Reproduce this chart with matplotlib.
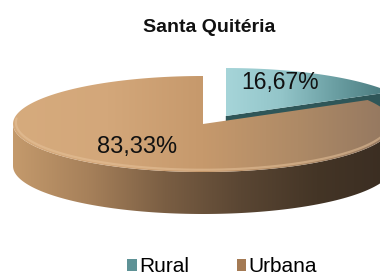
import numpy as np
import matplotlib
matplotlib.use("Agg")
import matplotlib.pyplot as plt
from matplotlib.patches import Polygon, Patch
from matplotlib.colors import LinearSegmentedColormap

plt.rcParams['font.family'] = ['Liberation Sans', 'DejaVu Sans']

title = "Santa Quitéria"
categories = ["Rural", "Urbana"]
values = [16.67, 83.33]
labels = ["16,67%", "83,33%"]
explode = [0.24, 0.0]

# geometry (pixel-like data units)
cx, cy, rx, ry, depth = 203.0, 124.0, 190.0, 48.0, 42.0

fig = plt.figure(figsize=(3.8, 2.76), dpi=100)
ax = fig.add_axes([0, 0, 1, 1])
ax.set_xlim(0, 380)
ax.set_ylim(276, 0)
ax.axis("off")


def pt(theta_deg, ox=0.0, oy=0.0, r=1.0):
    t = np.deg2rad(theta_deg)
    return cx + ox + r * rx * np.cos(t), cy + oy - r * ry * np.sin(t)


def grad_fill(verts, colors, zorder):
    verts = np.asarray(verts)
    poly = Polygon(verts, closed=True, facecolor="none", edgecolor="none")
    ax.add_patch(poly)
    x0, x1 = verts[:, 0].min(), verts[:, 0].max()
    y0, y1 = verts[:, 1].min(), verts[:, 1].max()
    cmap = LinearSegmentedColormap.from_list("g", colors)
    g = np.linspace(0, 1, 256).reshape(1, -1)
    im = ax.imshow(g, cmap=cmap, extent=(x0, x1, y1, y0), aspect="auto",
                   zorder=zorder, interpolation="bilinear")
    im.set_clip_path(poly)
    ax.set_xlim(0, 380)
    ax.set_ylim(276, 0)


# compute wedge angles (start at 12 o'clock, clockwise)
start = 90.0
angles = []
cum = 0.0
for v in values:
    t1 = start - cum
    t2 = start - cum - 360.0 * v / sum(values)
    angles.append((t1, t2))
    cum += 360.0 * v / sum(values)

# Rural slice (behind)
t1, t2 = angles[0]
mid = np.deg2rad((t1 + t2) / 2)
ox = explode[0] * rx * np.cos(mid)
oy = -explode[0] * ry * np.sin(mid) + 2
apex = (cx + ox, cy + oy)
p_end = pt(t2, ox, oy)
face = [apex, p_end, (p_end[0], p_end[1] + depth), (apex[0], apex[1] + depth)]
ax.add_patch(Polygon(face, closed=True, facecolor="#2F5658", edgecolor="none", zorder=1))
arc = np.linspace(t1, t2, 80)
top = [apex] + [pt(a, ox, oy) for a in arc]
grad_fill(top, ["#A6D5D9", "#93C5C9", "#6A9EA2", "#46767A"], 2)
ax.text(280, 83, labels[0], ha="center", va="center", fontsize=16.5, color="#111111", zorder=10)

# Urbana slice (front)
t1, t2 = angles[1]
vis = np.linspace(0, -180, 120)
side = [pt(a) for a in vis] + [(pt(a)[0], pt(a)[1] + depth) for a in vis[::-1]]
grad_fill(side, ["#C49A6C", "#A6805A", "#7A5E43", "#5A4633", "#443526", "#3A2D22"], 3)
arc = np.linspace(t1, t2, 300)
top = [(cx, cy)] + [pt(a) for a in arc]
grad_fill(top, ["#D6AB7D", "#D3A77A", "#C6996C", "#AE8A66", "#937760"], 4)
# soft rim highlight along the front edge of the top face
rim = np.linspace(-185, 5, 150)
rx_pts = [pt(a, r=0.985)[0] for a in rim]
ry_pts = [pt(a, r=0.985)[1] - 1.5 for a in rim]
ax.plot(rx_pts, ry_pts, color="#E6C29A", lw=1.6, alpha=0.55, zorder=5, solid_capstyle="round")
ax.text(137, 147, labels[1], ha="center", va="center", fontsize=17, color="#111111", zorder=10)

# title
ax.text(209, 27, title, ha="center", va="center", fontsize=14, fontweight="bold", color="#111111")

# legend
handles = [Patch(facecolor="#5E9296", edgecolor="none"), Patch(facecolor="#A47A54", edgecolor="none")]
fig.legend(handles, categories, loc="center", bbox_to_anchor=(222 / 380, 1 - 267 / 276),
           ncol=2, frameon=False, fontsize=15, handlelength=0.45, handleheight=0.55,
           handletextpad=0.1, columnspacing=2.3, borderaxespad=0)

fig.savefig("out.png", dpi=100)
